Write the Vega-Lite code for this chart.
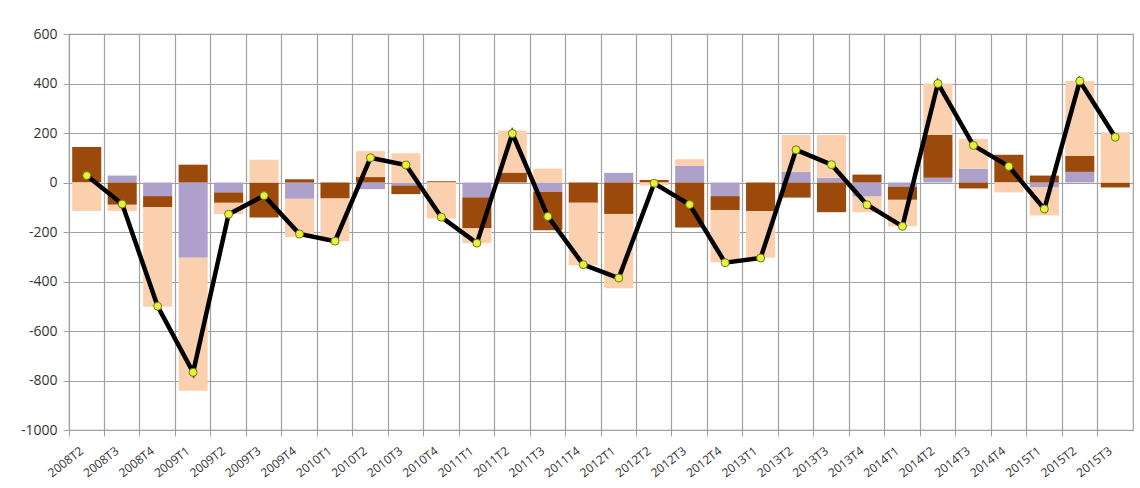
{
  "$schema": "https://vega.github.io/schema/vega-lite/v6.json",
  "width": 1064,
  "height": 396,
  "autosize": {"type": "none"},
  "padding": {"left": 69, "top": 34, "right": 7, "bottom": 58},
  "background": "white",
  "config": {
    "view": {"stroke": "#a0a0a0", "strokeWidth": 1.2},
    "font": "Open Sans"
  },
  "datasets": {
    "bars": [
      {"q": "2008T2", "comp": "c1", "v": 0}, {"q": "2008T2", "comp": "c2", "v": 143}, {"q": "2008T2", "comp": "c3", "v": -115},
      {"q": "2008T3", "comp": "c1", "v": 28}, {"q": "2008T3", "comp": "c2", "v": -90}, {"q": "2008T3", "comp": "c3", "v": -25},
      {"q": "2008T4", "comp": "c1", "v": -55}, {"q": "2008T4", "comp": "c2", "v": -44}, {"q": "2008T4", "comp": "c3", "v": -403},
      {"q": "2009T1", "comp": "c1", "v": -304}, {"q": "2009T1", "comp": "c2", "v": 72}, {"q": "2009T1", "comp": "c3", "v": -537},
      {"q": "2009T2", "comp": "c1", "v": -40}, {"q": "2009T2", "comp": "c2", "v": -42}, {"q": "2009T2", "comp": "c3", "v": -46},
      {"q": "2009T3", "comp": "c1", "v": 0}, {"q": "2009T3", "comp": "c2", "v": -141}, {"q": "2009T3", "comp": "c3", "v": 92},
      {"q": "2009T4", "comp": "c1", "v": -66}, {"q": "2009T4", "comp": "c2", "v": 13}, {"q": "2009T4", "comp": "c3", "v": -155},
      {"q": "2010T1", "comp": "c1", "v": 0}, {"q": "2010T1", "comp": "c2", "v": -65}, {"q": "2010T1", "comp": "c3", "v": -172},
      {"q": "2010T2", "comp": "c1", "v": -27}, {"q": "2010T2", "comp": "c2", "v": 22}, {"q": "2010T2", "comp": "c3", "v": 105},
      {"q": "2010T3", "comp": "c1", "v": -12}, {"q": "2010T3", "comp": "c2", "v": -35}, {"q": "2010T3", "comp": "c3", "v": 118},
      {"q": "2010T4", "comp": "c1", "v": 0}, {"q": "2010T4", "comp": "c2", "v": 5}, {"q": "2010T4", "comp": "c3", "v": -145},
      {"q": "2011T1", "comp": "c1", "v": -60}, {"q": "2011T1", "comp": "c2", "v": -125}, {"q": "2011T1", "comp": "c3", "v": -60},
      {"q": "2011T2", "comp": "c1", "v": 0}, {"q": "2011T2", "comp": "c2", "v": 40}, {"q": "2011T2", "comp": "c3", "v": 170},
      {"q": "2011T3", "comp": "c1", "v": -37}, {"q": "2011T3", "comp": "c2", "v": -156}, {"q": "2011T3", "comp": "c3", "v": 56},
      {"q": "2011T4", "comp": "c1", "v": 0}, {"q": "2011T4", "comp": "c2", "v": -82}, {"q": "2011T4", "comp": "c3", "v": -252},
      {"q": "2012T1", "comp": "c1", "v": 39}, {"q": "2012T1", "comp": "c2", "v": -127}, {"q": "2012T1", "comp": "c3", "v": -300},
      {"q": "2012T2", "comp": "c1", "v": 0}, {"q": "2012T2", "comp": "c2", "v": 10}, {"q": "2012T2", "comp": "c3", "v": -12},
      {"q": "2012T3", "comp": "c1", "v": 67}, {"q": "2012T3", "comp": "c2", "v": -182}, {"q": "2012T3", "comp": "c3", "v": 27},
      {"q": "2012T4", "comp": "c1", "v": -55}, {"q": "2012T4", "comp": "c2", "v": -56}, {"q": "2012T4", "comp": "c3", "v": -211},
      {"q": "2013T1", "comp": "c1", "v": 0}, {"q": "2013T1", "comp": "c2", "v": -116}, {"q": "2013T1", "comp": "c3", "v": -188},
      {"q": "2013T2", "comp": "c1", "v": 43}, {"q": "2013T2", "comp": "c2", "v": -61}, {"q": "2013T2", "comp": "c3", "v": 149},
      {"q": "2013T3", "comp": "c1", "v": 19}, {"q": "2013T3", "comp": "c2", "v": -120}, {"q": "2013T3", "comp": "c3", "v": 173},
      {"q": "2013T4", "comp": "c1", "v": -57}, {"q": "2013T4", "comp": "c2", "v": 32}, {"q": "2013T4", "comp": "c3", "v": -63},
      {"q": "2014T1", "comp": "c1", "v": -17}, {"q": "2014T1", "comp": "c2", "v": -53}, {"q": "2014T1", "comp": "c3", "v": -107},
      {"q": "2014T2", "comp": "c1", "v": 19}, {"q": "2014T2", "comp": "c2", "v": 173}, {"q": "2014T2", "comp": "c3", "v": 208},
      {"q": "2014T3", "comp": "c1", "v": 56}, {"q": "2014T3", "comp": "c2", "v": -24}, {"q": "2014T3", "comp": "c3", "v": 120},
      {"q": "2014T4", "comp": "c1", "v": 0}, {"q": "2014T4", "comp": "c2", "v": 112}, {"q": "2014T4", "comp": "c3", "v": -40},
      {"q": "2015T1", "comp": "c1", "v": -20}, {"q": "2015T1", "comp": "c2", "v": 28}, {"q": "2015T1", "comp": "c3", "v": -113},
      {"q": "2015T2", "comp": "c1", "v": 43}, {"q": "2015T2", "comp": "c2", "v": 64}, {"q": "2015T2", "comp": "c3", "v": 303},
      {"q": "2015T3", "comp": "c1", "v": 0}, {"q": "2015T3", "comp": "c2", "v": -20}, {"q": "2015T3", "comp": "c3", "v": 203}
    ],
    "totals": [
      {"q": "2008T2", "total": 28}, {"q": "2008T3", "total": -87}, {"q": "2008T4", "total": -500},
      {"q": "2009T1", "total": -767}, {"q": "2009T2", "total": -128}, {"q": "2009T3", "total": -53},
      {"q": "2009T4", "total": -208}, {"q": "2010T1", "total": -237}, {"q": "2010T2", "total": 100},
      {"q": "2010T3", "total": 71}, {"q": "2010T4", "total": -140}, {"q": "2011T1", "total": -245},
      {"q": "2011T2", "total": 198}, {"q": "2011T3", "total": -137}, {"q": "2011T4", "total": -332},
      {"q": "2012T1", "total": -386}, {"q": "2012T2", "total": -3}, {"q": "2012T3", "total": -89},
      {"q": "2012T4", "total": -324}, {"q": "2013T1", "total": -305}, {"q": "2013T2", "total": 132},
      {"q": "2013T3", "total": 72}, {"q": "2013T4", "total": -90}, {"q": "2014T1", "total": -177},
      {"q": "2014T2", "total": 400}, {"q": "2014T3", "total": 150}, {"q": "2014T4", "total": 65},
      {"q": "2015T1", "total": -107}, {"q": "2015T2", "total": 410}, {"q": "2015T3", "total": 183}
    ]
  },
  "encoding": {
    "x": {
      "field": "q", "type": "nominal", "sort": null,
      "scale": {"paddingInner": 0, "paddingOuter": 0},
      "axis": {
        "title": null, "bandPosition": 0, "grid": true, "gridColor": "#a0a0a0", "gridWidth": 1.2,
        "domain": false, "ticks": true, "tickSize": 6, "tickColor": "#a0a0a0",
        "labelAngle": -38, "labelAlign": "right", "labelBaseline": "top",
        "labelOffset": -8, "labelPadding": 9, "labelFontSize": 12, "labelColor": "#333333"
      }
    }
  },
  "layer": [
    {
      "data": {"name": "bars"},
      "mark": {"type": "bar", "width": {"band": 0.82}},
      "encoding": {
        "y": {
          "field": "v", "type": "quantitative", "stack": "zero",
          "scale": {"domain": [-1000, 600], "nice": false, "zero": false},
          "axis": {
            "title": null, "values": [-1000, -800, -600, -400, -200, 0, 200, 400, 600],
            "grid": true, "gridColor": "#a0a0a0", "gridWidth": 1.2,
            "domain": true, "domainColor": "#a0a0a0",
            "ticks": true, "tickSize": 6, "tickColor": "#a0a0a0",
            "labelPadding": 6, "labelFontSize": 14, "labelColor": "#333333",
            "labelExpr": "'' + datum.value"
          }
        },
        "color": {
          "field": "comp", "type": "nominal",
          "scale": {"domain": ["c1", "c2", "c3"], "range": ["#ADA0CB", "#9C4A0B", "#FAD0AE"]},
          "legend": null
        },
        "order": {"field": "comp", "sort": "ascending"}
      }
    },
    {
      "data": {"name": "totals"},
      "mark": {"type": "line", "color": "#000000", "strokeWidth": 4.5},
      "encoding": {"y": {"field": "total", "type": "quantitative"}}
    },
    {
      "data": {"name": "totals"},
      "mark": {"type": "point", "filled": true, "fill": "#E6F23C", "stroke": "#6E7A12", "strokeWidth": 1, "size": 64, "opacity": 1},
      "encoding": {"y": {"field": "total", "type": "quantitative"}}
    }
  ]
}
